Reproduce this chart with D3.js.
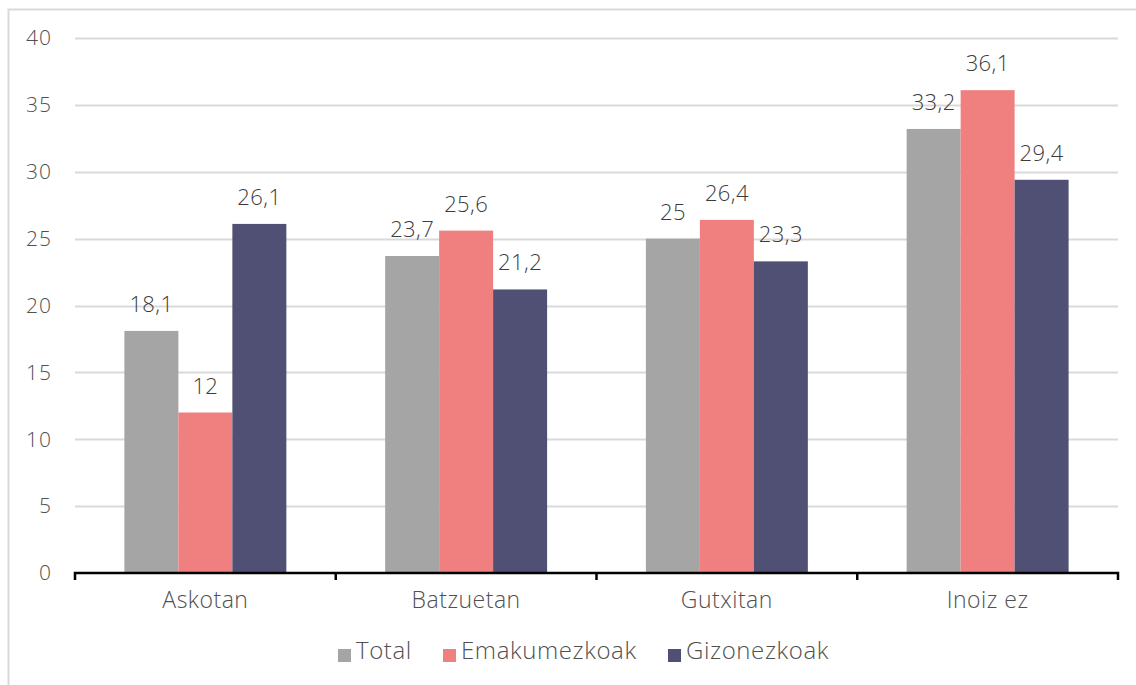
<!DOCTYPE html>
<html>
<head>
<meta charset="utf-8">
<script src="https://cdn.jsdelivr.net/npm/d3@7"></script>
<style>
  body { margin: 0; background: #fff; }
  text { font-family: "Open Sans", Lato, sans-serif; font-weight: 300; }
</style>
</head>
<body>
<script>
// chart data
const categories = ['Askotan', 'Batzuetan', 'Gutxitan', 'Inoiz ez']
const seriesNames = ['Total', 'Emakumezkoak', 'Gizonezkoak']
const total = [18.1, 23.7, 25, 33.2]
const emakumezkoak = [12, 25.6, 26.4, 36.1]
const gizonezkoak = [26.1, 21.2, 23.3, 29.4]
const yTicks = [0, 5, 10, 15, 20, 25, 30, 35, 40]
const colors = ['#a5a5a5', '#f08080', '#505075']

const width = 1136, height = 685
const margin = {top: 38, right: 18, bottom: 112, left: 75}

const svg = d3.select('body').append('svg')
    .attr('width', width)
    .attr('height', height)

// light frame round the chart (cut at right and bottom)
svg.append('rect')
    .attr('x', 8.5).attr('y', 9.5)
    .attr('width', width + 20).attr('height', height + 20)
    .attr('fill', 'none')
    .attr('stroke', '#d9d9d9')
    .attr('stroke-width', 2)

const x = d3.scaleBand()
    .domain(categories)
    .range([margin.left, width - margin.right])

const x1 = d3.scaleBand()
    .domain(seriesNames)
    .range([0, x.bandwidth()])
    .paddingInner(0)
    .paddingOuter(0.915)

const y = d3.scaleLinear()
    .domain([0, 40])
    .range([height - margin.bottom, margin.top])

// gridlines
svg.append('g')
    .selectAll('line')
    .data(yTicks.filter(d => d > 0))
    .enter()
    .append('line')
        .attr('x1', margin.left)
        .attr('x2', width - margin.right)
        .attr('y1', d => Math.round(y(d)) + 0.5)
        .attr('y2', d => Math.round(y(d)) + 0.5)
        .attr('stroke', '#d9d9d9')
        .attr('stroke-width', 2)

// y tick labels
svg.append('g')
    .selectAll('text')
    .data(yTicks)
    .enter()
    .append('text')
        .attr('x', 52)
        .attr('y', d => y(d))
        .attr('dy', '0.35em')
        .attr('text-anchor', 'end')
        .attr('font-size', 21)
        .attr('letter-spacing', 1)
        .attr('fill', '#505050')
        .text(d => d)

// bars
const rows = categories.map((c, i) => ({cat: c, vals: [total[i], emakumezkoak[i], gizonezkoak[i]]}))

const groups = svg.append('g')
    .selectAll('g')
    .data(rows)
    .enter()
    .append('g')
        .attr('transform', d => 'translate(' + x(d.cat) + ',0)')

groups.selectAll('rect')
    .data(d => d.vals.map((v, j) => ({name: seriesNames[j], v: v, j: j})))
    .enter()
    .append('rect')
        .attr('x', d => x1(d.name))
        .attr('y', d => y(d.v))
        .attr('width', x1.bandwidth())
        .attr('height', d => y(0) - y(d.v))
        .attr('fill', d => colors[d.j])

groups.selectAll('text')
    .data(d => d.vals.map((v, j) => ({name: seriesNames[j], v: v, j: j})))
    .enter()
    .append('text')
        .attr('x', d => x1(d.name) + x1.bandwidth() / 2)
        .attr('y', d => y(d.v) - 19)
        .attr('text-anchor', 'middle')
        .attr('font-size', 22)
        .attr('letter-spacing', 0.4)
        .attr('fill', '#3c3c3c')
        .text(d => String(d.v).replace('.', ','))

// x axis
const xAxis = svg.append('g')
    .attr('transform', 'translate(0,' + y(0) + ')')
    .call(d3.axisBottom(x).tickSize(0).tickFormat(''))
xAxis.select('.domain').remove()
xAxis.append('path')
    .attr('d', 'M' + margin.left + ',7V0H' + (width - margin.right) + 'V7')
    .attr('fill', 'none')
    .attr('stroke', '#000')
    .attr('stroke-width', 2.5)
xAxis.selectAll('.inner-tick')
    .data(categories.slice(1))
    .enter()
    .append('line')
        .attr('x1', d => x(d)).attr('x2', d => x(d))
        .attr('y1', 0).attr('y2', 7)
        .attr('stroke', '#000')
        .attr('stroke-width', 2.5)

svg.append('g')
    .selectAll('text')
    .data(categories)
    .enter()
    .append('text')
        .attr('x', d => x(d) + x.bandwidth() / 2)
        .attr('y', y(0) + 35)
        .attr('text-anchor', 'middle')
        .attr('font-size', 23)
        .attr('letter-spacing', 0.5)
        .attr('fill', '#505050')
        .text(d => d)

// legend
const legendX = [338, 443, 668]
const legend = svg.append('g')
    .selectAll('g')
    .data(seriesNames)
    .enter()
    .append('g')
        .attr('transform', (d, i) => 'translate(' + legendX[i] + ',0)')
legend.append('rect')
    .attr('x', 0).attr('y', 649)
    .attr('width', 13).attr('height', 13)
    .attr('fill', (d, i) => colors[i])
legend.append('text')
    .attr('x', 18).attr('y', 659)
    .attr('font-size', 24)
    .attr('letter-spacing', 0.6)
    .attr('fill', '#505050')
    .text(d => d)
</script>
</body>
</html>
